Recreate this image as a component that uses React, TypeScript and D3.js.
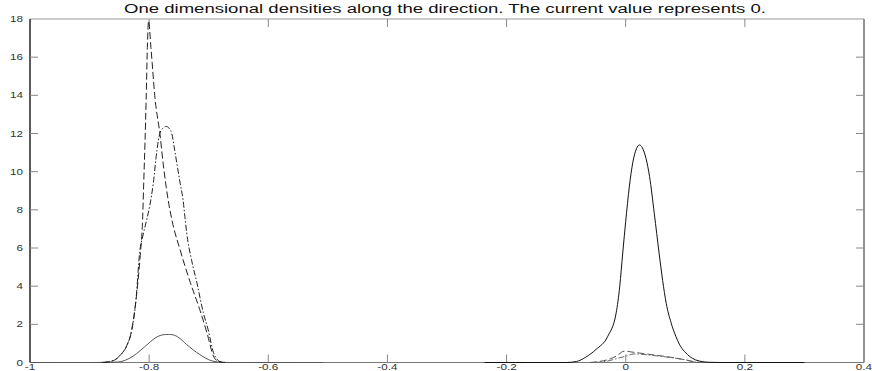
import { useEffect, useRef } from 'react';
import * as d3 from 'd3';

type Pt = [number, number];

// solid series: small bump on the left, big peak on the right
const solidLeft: Pt[] = [
  [-1, 0], [-0.9, 0], [-0.855, 0.02], [-0.84, 0.12], [-0.827, 0.33], [-0.815, 0.62],
  [-0.8, 1.03], [-0.79, 1.28], [-0.777, 1.45], [-0.768, 1.47], [-0.76, 1.45], [-0.75, 1.3],
  [-0.737, 0.94], [-0.726, 0.66], [-0.715, 0.42], [-0.705, 0.22], [-0.693, 0.07],
  [-0.68, 0.02], [-0.665, 0], [-0.508, 0],
];
const solidRight: Pt[] = [
  [-0.237, 0], [-0.1, 0], [-0.083, 0.05], [-0.067, 0.28], [-0.05, 0.68], [-0.03, 1.38],
  [-0.016, 2.6], [-0.01, 4.0], [-0.005, 5.74], [0.0, 7.4], [0.006, 9.2], [0.012, 10.5],
  [0.018, 11.2], [0.023, 11.4], [0.028, 11.25], [0.034, 10.7], [0.04, 9.75], [0.048, 7.8],
  [0.056, 5.74], [0.062, 4.3], [0.068, 3.1], [0.076, 2.1], [0.084, 1.38], [0.092, 0.85],
  [0.101, 0.5], [0.112, 0.22], [0.123, 0.08], [0.14, 0.01], [0.16, 0], [0.3, 0],
];

// dashed series
const dashedLeft: Pt[] = [
  [-0.88, 0], [-0.86, 0.1], [-0.848, 0.4], [-0.838, 0.85], [-0.829, 1.75], [-0.822, 3.3],
  [-0.815, 5.6], [-0.811, 7.5], [-0.809, 9.5], [-0.807, 11.5], [-0.805, 13.8], [-0.803, 16.5],
  [-0.801, 17.9], [-0.797, 16.5], [-0.79, 13.8], [-0.782, 12.0], [-0.776, 10.3], [-0.768, 8.5],
  [-0.762, 7.5], [-0.748, 5.9], [-0.731, 4.2], [-0.715, 2.77], [-0.703, 1.56], [-0.692, 0.33],
  [-0.684, 0.05], [-0.675, 0],
];
const dashedRight: Pt[] = [
  [-0.06, 0], [-0.045, 0.05], [-0.03, 0.15], [-0.015, 0.35], [-0.002, 0.6], [0.01, 0.55],
  [0.034, 0.45], [0.056, 0.36], [0.079, 0.26], [0.1, 0.14], [0.115, 0.03], [0.125, 0],
];

// dash-dot series
const dashDotLeft: Pt[] = [
  [-0.875, 0], [-0.86, 0.1], [-0.848, 0.4], [-0.838, 0.85], [-0.829, 1.73], [-0.822, 3.3],
  [-0.816, 5.75], [-0.81, 6.7], [-0.804, 7.5], [-0.799, 8.2], [-0.793, 9.4], [-0.787, 11.1],
  [-0.782, 12.0], [-0.776, 12.3], [-0.771, 12.37], [-0.766, 12.25], [-0.762, 12.0],
  [-0.757, 11.1], [-0.748, 9.4], [-0.743, 8.5], [-0.74, 7.65], [-0.737, 6.8], [-0.729, 5.4],
  [-0.72, 4.2], [-0.709, 2.6], [-0.701, 1.73], [-0.692, 0.52], [-0.681, 0.05], [-0.672, 0],
];
const dashDotRight: Pt[] = [
  [-0.05, 0], [-0.03, 0.08], [-0.01, 0.25], [0.0, 0.33], [0.014, 0.45], [0.03, 0.42],
  [0.056, 0.33], [0.08, 0.24], [0.1, 0.14], [0.12, 0.02], [0.13, 0],
];

const xTicks = [-1, -0.8, -0.6, -0.4, -0.2, 0, 0.2, 0.4];
const xTickLabels = ['-1', '-0.8', '-0.6', '-0.4', '-0.2', '0', '0.2', '0.4'];
const yTicks = [0, 2, 4, 6, 8, 10, 12, 14, 16, 18];
const title = 'One dimensional densities along the direction. The current value represents 0.';

export default function App() {
  const svgRef = useRef<SVGSVGElement>(null);

  useEffect(() => {
    if (!svgRef.current) return;
    const width = 872;
    const height = 371;
    const left = 30, right = 864, top = 19, bottom = 362.5;

    const svg = d3.select(svgRef.current);
    svg.selectAll('*').remove();

    const x = d3.scaleLinear().domain([-1, 0.4]).range([left, right]);
    const y = d3.scaleLinear().domain([0, 18]).range([bottom, top]);

    svg.append('rect').attr('width', width).attr('height', height).attr('fill', '#fff');

    // Title
    svg.append('text')
      .attr('x', 445)
      .attr('y', 13)
      .attr('text-anchor', 'middle')
      .attr('font-family', 'Arial, "Liberation Sans", sans-serif')
      .attr('font-size', 12)
      .attr('textLength', 642)
      .attr('lengthAdjust', 'spacingAndGlyphs')
      .attr('fill', '#111')
      .text(title);

    // Box
    svg.append('line').attr('x1', left).attr('x2', right).attr('y1', top).attr('y2', top)
      .attr('stroke', '#999').attr('stroke-width', 1);
    svg.append('line').attr('x1', right).attr('x2', right).attr('y1', top).attr('y2', bottom)
      .attr('stroke', '#888').attr('stroke-width', 1.8);
    svg.append('line').attr('x1', left).attr('x2', right).attr('y1', bottom).attr('y2', bottom)
      .attr('stroke', '#777').attr('stroke-width', 1);
    svg.append('line').attr('x1', left).attr('x2', left).attr('y1', top).attr('y2', bottom)
      .attr('stroke', '#333').attr('stroke-width', 1.6);

    const tickLen = 8;
    const tickColor = '#888';
    const labelFont = 'Arial, "Liberation Sans", sans-serif';

    // X ticks (inside, bottom and top)
    xTicks.forEach((t, i) => {
      const px = x(t);
      if (i !== 0 && i !== xTicks.length - 1) {
        svg.append('line').attr('x1', px).attr('x2', px).attr('y1', bottom).attr('y2', bottom - tickLen)
          .attr('stroke', tickColor);
        svg.append('line').attr('x1', px).attr('x2', px).attr('y1', top).attr('y2', top + tickLen)
          .attr('stroke', tickColor);
      }
      svg.append('text')
        .attr('transform', `translate(${px},${370}) scale(1.3,1)`)
        .attr('text-anchor', 'middle')
        .attr('font-family', labelFont)
        .attr('font-size', 9)
        .attr('fill', '#333')
        .text(xTickLabels[i]);
    });

    // Y ticks (inside, left and right)
    yTicks.forEach((t, i) => {
      const py = y(t);
      if (i !== 0 && i !== yTicks.length - 1) {
        svg.append('line').attr('x1', left).attr('x2', left + tickLen).attr('y1', py).attr('y2', py)
          .attr('stroke', tickColor);
        svg.append('line').attr('x1', right).attr('x2', right - tickLen).attr('y1', py).attr('y2', py)
          .attr('stroke', tickColor);
      }
      svg.append('text')
        .attr('transform', `translate(23,${py + 3}) scale(1.3,1)`)
        .attr('text-anchor', 'end')
        .attr('font-family', labelFont)
        .attr('font-size', 9)
        .attr('fill', '#333')
        .text(String(t));
    });

    const line = d3.line<Pt>()
      .x((d) => x(d[0]))
      .y((d) => y(d[1]))
      .curve(d3.curveMonotoneX);

    const series: { data: Pt[]; color: string; dash: string | null }[] = [
      { data: solidLeft, color: '#555', dash: null },
      { data: solidRight, color: '#111', dash: null },
      { data: dashedLeft, color: '#222', dash: '7,3' },
      { data: dashedRight, color: '#555', dash: '7,3' },
      { data: dashDotLeft, color: '#222', dash: '6,2,1.5,2' },
      { data: dashDotRight, color: '#666', dash: '6,2,1.5,2' },
    ];

    const g = svg.append('g');
    series.forEach((s) => {
      g.append('path')
        .datum(s.data)
        .attr('fill', 'none')
        .attr('stroke', s.color)
        .attr('stroke-width', 1)
        .attr('stroke-dasharray', s.dash)
        .attr('d', line);
    });
  }, []);

  return (
    <svg
      ref={svgRef}
      width={872}
      height={371}
      style={{ position: 'absolute', left: 0, top: 0, display: 'block' }}
    />
  );
}
